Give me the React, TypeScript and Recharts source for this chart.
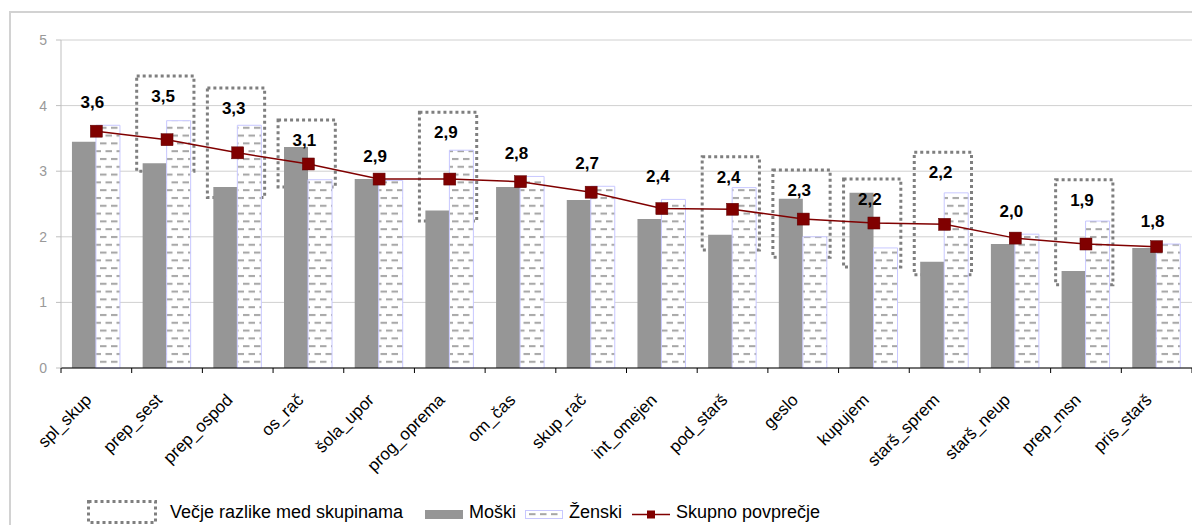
import React from "react";
import {
  ComposedChart,
  Bar,
  Line,
  XAxis,
  YAxis,
  CartesianGrid,
  ReferenceArea,
  LabelList,
} from "recharts";

const categories = [
  "spl_skup",
  "prep_sest",
  "prep_ospod",
  "os_rač",
  "šola_upor",
  "prog_oprema",
  "om_čas",
  "skup_rač",
  "int_omejen",
  "pod_starš",
  "geslo",
  "kupujem",
  "starš_sprem",
  "starš_neup",
  "prep_msn",
  "pris_starš",
];

const moski = [3.45, 3.12, 2.76, 3.37, 2.88, 2.4, 2.76, 2.56, 2.27, 2.03, 2.58, 2.67, 1.62, 1.89, 1.48, 1.83];
const zenski = [3.7, 3.77, 3.7, 2.87, 2.86, 3.32, 2.92, 2.77, 2.57, 2.75, 2.0, 1.83, 2.67, 2.04, 2.24, 1.89];
const povprecje = [3.61, 3.48, 3.28, 3.11, 2.88, 2.88, 2.84, 2.68, 2.43, 2.42, 2.27, 2.21, 2.19, 1.98, 1.89, 1.85];
const povprecjeLabels = ["3,6", "3,5", "3,3", "3,1", "2,9", "2,9", "2,8", "2,7", "2,4", "2,4", "2,3", "2,2", "2,2", "2,0", "1,9", "1,8"];

// "Večje razlike med skupinama" – dotted boxes (value range on the y axis)
const razlikeCats = ["prep_sest", "prep_ospod", "os_rač", "prog_oprema", "pod_starš", "geslo", "kupujem", "starš_sprem", "prep_msn"];
const razlikeTop = [4.45, 4.27, 3.78, 3.9, 3.22, 3.02, 2.88, 3.29, 2.87];
const razlikeBottom = [3.0, 2.6, 2.76, 2.24, 1.8, 1.69, 1.54, 1.42, 1.27];

const yTicks = [0, 1, 2, 3, 4, 5];

const FONT = "'Liberation Sans', Arial, sans-serif";
const W = 1192;
const H = 525;
const Y_AXIS_W = 61;
const BAND = (W - Y_AXIS_W) / categories.length;
const DARK_RED = "#800000";
const GRAY_BAR = "#969696";
const ZEN_STROKE = "#c8c8ff";

const data = categories.map((c, i) => {
  const k = razlikeCats.indexOf(c);
  return {
    cat: c,
    moski: moski[i],
    zenski: zenski[i],
    povprecje: povprecje[i],
    // anchor for the value label: top of the dotted box, or the taller bar
    labelRef: k >= 0 ? razlikeTop[k] : Math.max(moski[i], zenski[i]),
  };
});

function DashPattern({ id }: { id: string }) {
  return (
    <pattern id={id} patternUnits="userSpaceOnUse" width={11} height={15.6}>
      <rect width={11} height={15.6} fill="#fff" />
      <rect x={1} y={2} width={6.5} height={2} fill="#a6a6a6" />
      <rect x={6.5} y={9.8} width={6.5} height={2} fill="#a6a6a6" />
      <rect x={-4.5} y={9.8} width={6.5} height={2} fill="#a6a6a6" />
    </pattern>
  );
}

function CatTick(props: any) {
  const { x, y, payload, index } = props;
  const half = BAND / 2;
  return (
    <g>
      <line x1={x - half} y1={y} x2={x - half} y2={y + 5} stroke="#000" />
      {index === categories.length - 1 && (
        <line x1={x + half} y1={y} x2={x + half} y2={y + 5} stroke="#000" />
      )}
      <text
        transform={`translate(${x - 4},${y + 33}) rotate(-45)`}
        textAnchor="end"
        fontSize={17}
        fontFamily={FONT}
        fill="#000"
      >
        {payload.value}
      </text>
    </g>
  );
}

function SquareDot(props: any) {
  const { cx, cy } = props;
  if (cx == null || cy == null) return null;
  return <rect x={cx - 6} y={cy - 6} width={12} height={12} fill={DARK_RED} stroke="#5a0000" strokeWidth={0.5} />;
}

function ValueLabel(props: any) {
  const { x, y, index } = props;
  const boxed = razlikeCats.includes(categories[index]);
  const cy = boxed ? y + 20 : y - 23;
  return (
    <text x={x - 4} y={cy + 6} textAnchor="middle" fontSize={17} fontWeight="bold" fontFamily={FONT} fill="#000">
      {povprecjeLabels[index]}
    </text>
  );
}

function DottedBox(props: any) {
  const { x, y, width, height } = props;
  return (
    <rect
      x={x + 5}
      y={y}
      width={width * 0.81}
      height={height}
      fill="none"
      stroke="#7f7f7f"
      strokeWidth={3}
      strokeDasharray="3 3"
    />
  );
}

function LegendRow() {
  const t = { fontSize: 18, fontFamily: FONT, fill: "#000" } as const;
  return (
    <svg width={W} height={45} style={{ position: "absolute", left: 0, top: 480 }}>
      <defs>
        <DashPattern id="zenskiLegend" />
      </defs>
      <rect x={88.5} y={21.5} width={67} height={21} fill="none" stroke="#7f7f7f" strokeWidth={3} strokeDasharray="3 3" />
      <text x={170} y={38} {...t}>Večje razlike med skupinama</text>
      <rect x={425} y={30} width={38} height={9} fill={GRAY_BAR} />
      <text x={469} y={38} {...t}>Moški</text>
      <rect x={525.5} y={30.5} width={37} height={8} fill="url(#zenskiLegend)" stroke={ZEN_STROKE} />
      <text x={569} y={38} {...t}>Ženski</text>
      <line x1={632} x2={670} y1={34.5} y2={34.5} stroke={DARK_RED} strokeWidth={1.5} />
      <rect x={647} y={30.5} width={8} height={8} fill={DARK_RED} />
      <text x={676} y={38} {...t}>Skupno povprečje</text>
    </svg>
  );
}

export default function App() {
  return (
    <div
      style={{
        position: "absolute",
        left: 0,
        top: 0,
        width: W,
        height: H,
        background: "#fff",
        overflow: "hidden",
      }}
    >
      {/* outer frame of the original figure */}
      <div
        style={{
          position: "absolute",
          left: 9,
          top: 11,
          width: 1300,
          height: 700,
          border: "2px solid #d2d2d2",
        }}
      />
      <div style={{ position: "absolute", left: 0, top: 0 }}>
        <ComposedChart
          width={W}
          height={H}
          data={data}
          margin={{ top: 40, right: 0, bottom: 0, left: 0 }}
          barCategoryGap="15.5%"
          barGap={0}
        >
          <defs>
            <DashPattern id="zenskiFill" />
          </defs>
          <CartesianGrid vertical={false} stroke="#d0d0d0" />
          <XAxis
            dataKey="cat"
            interval={0}
            height={157}
            tickSize={0}
            tickMargin={0}
            tickLine={false}
            axisLine={{ stroke: "#000" }}
            tick={<CatTick />}
          />
          <YAxis
            domain={[0, 5]}
            ticks={yTicks}
            width={Y_AXIS_W}
            tickSize={5}
            tickMargin={9}
            axisLine={{ stroke: "#bfbfbf" }}
            tickLine={{ stroke: "#bfbfbf" }}
            tick={{ fill: "#999", fontSize: 14, fontFamily: FONT }}
          />
          <Bar dataKey="moski" name="Moški" fill={GRAY_BAR} isAnimationActive={false} />
          <Bar
            dataKey="zenski"
            name="Ženski"
            fill="url(#zenskiFill)"
            stroke={ZEN_STROKE}
            strokeWidth={1}
            isAnimationActive={false}
          />
          {razlikeCats.map((c, i) => (
            <ReferenceArea
              key={c}
              x1={c}
              x2={c}
              y1={razlikeBottom[i]}
              y2={razlikeTop[i]}
              ifOverflow="visible"
              shape={<DottedBox />}
            />
          ))}
          <Line
            dataKey="povprecje"
            name="Skupno povprečje"
            stroke={DARK_RED}
            strokeWidth={1.5}
            dot={<SquareDot />}
            activeDot={false}
            isAnimationActive={false}
          />
          <Line
            dataKey="labelRef"
            stroke="none"
            dot={false}
            activeDot={false}
            legendType="none"
            isAnimationActive={false}
          >
            <LabelList dataKey="labelRef" content={<ValueLabel />} />
          </Line>
        </ComposedChart>
      </div>
      <LegendRow />
    </div>
  );
}
